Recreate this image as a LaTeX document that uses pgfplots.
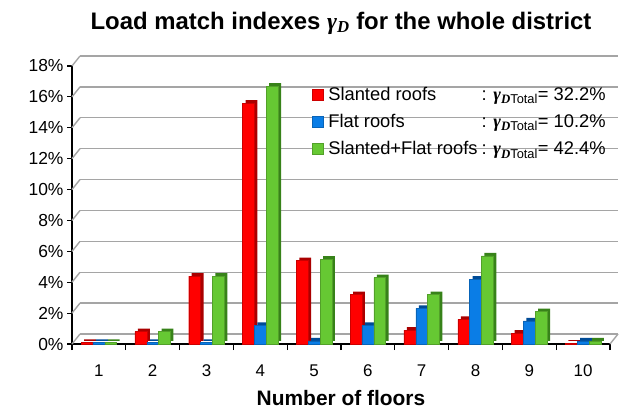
\documentclass[border=0pt]{standalone}
\usepackage{pgfplots}
\pgfplotsset{compat=1.18}
\usepackage{fontspec}
\setmainfont{Liberation Sans}
\newfontfamily\gfont{Liberation Serif}
\definecolor{cred}{RGB}{255,0,0}
\definecolor{credd}{RGB}{170,0,0}
\definecolor{cblue}{RGB}{10,125,230}
\definecolor{cblued}{RGB}{0,75,150}
\definecolor{cgreen}{RGB}{102,200,51}
\definecolor{cgreend}{RGB}{55,130,25}
\definecolor{gridc}{RGB}{165,165,165}
\newcommand\gD{{\gfont\bfseries\itshape γ\textsubscript{D}}}
\newcommand\gDT{{\gfont\bfseries\itshape γ}\textsubscript{{\gfont\bfseries\itshape D}Total}}
\begin{document}
\begin{tikzpicture}
\begin{axis}[
  name=ax, at={(0,0)}, anchor=south west,
  scale only axis, width=538bp, height=278bp,
  xmin=0.5, xmax=10.5, ymin=0, ymax=18,
  axis lines*=left,
  axis line style={black, line width=2bp},
  xtick={1,...,10},
  minor xtick={0.5,1.5,...,10.5},
  major x tick style={draw=none},
  minor x tick style={black, line width=1.2bp},
  ytick={0,2,...,18},
  y tick style={black, line width=1.2bp},
  tick align=outside,
  major tick length=5bp, minor tick length=6bp,
  yticklabel={\pgfmathprintnumber{\tick}\%},
  /pgf/number format/assume math mode=true,
  yticklabel style={font=\fontsize{17.5}{20}\selectfont},
  xticklabel style={font=\fontsize{17}{20}\selectfont, anchor=center, yshift=-22bp},
  ymajorgrids,
  major grid style={gridc, line width=1.4bp, xshift=8bp, yshift=10bp},
  xlabel={Number of floors},
  xlabel style={at={(axis description cs:0.5,0)}, anchor=center, yshift=-54bp, font=\fontsize{21}{24}\selectfont\bfseries},
  title={Load match indexes \gD\ for the whole district},
  title style={at={(axis description cs:0.5,1)}, anchor=center, yshift=37bp, font=\fontsize{24}{28}\selectfont\bfseries},
  clip=false,
  ybar=0pt, bar width=0.22,
  legend style={at={(0.44,0.94)}, anchor=north west, draw=none, fill=none,
    font=\fontsize{18.4}{22}\selectfont, row sep=8.5bp,
    /tikz/every odd column/.append style={column sep=3bp},
    /tikz/every even column/.append style={column sep=2bp}},
  legend cell align=left,
  legend image code/.code={\fill[#1] (0bp,-5.5bp) rectangle (11bp,5.5bp);},
]
\pgfplotsinvokeforeach{0,2,...,18}{\draw[gridc, line width=1.4bp] (axis cs:0.5,#1) -- ++(8bp,10bp);}
\draw[gridc, line width=1.4bp] (axis cs:10.5,0) -- ++(8bp,10bp);
% back (side) faces
\addplot[bar shift=-0.22, fill=credd, draw=none, xshift=3bp, yshift=3bp, forget plot] coordinates {(1,0.1) (2,0.8) (3,4.4) (4,15.6) (5,5.4) (6,3.2) (7,0.9) (8,1.6) (9,0.7) (10,0.05)};
\addplot[bar shift=0, fill=cblued, draw=none, xshift=3bp, yshift=3bp, forget plot] coordinates {(1,0.1) (2,0.1) (3,0.1) (4,1.2) (5,0.2) (6,1.2) (7,2.3) (8,4.2) (9,1.5) (10,0.2)};
\addplot[bar shift=0.22, fill=cgreend, draw=none, xshift=3bp, yshift=3bp, forget plot] coordinates {(1,0.1) (2,0.8) (3,4.4) (4,16.7) (5,5.5) (6,4.3) (7,3.2) (8,5.7) (9,2.1) (10,0.2)};
% front faces
\addplot[bar shift=-0.22, fill=cred, draw=cred!80!black, line width=0.4bp] coordinates {(1,0.1) (2,0.8) (3,4.4) (4,15.6) (5,5.4) (6,3.2) (7,0.9) (8,1.6) (9,0.7) (10,0.05)};
\addlegendentry{\rlap{Slanted roofs}\phantom{Slanted+Flat roofs}\hspace{4bp}: \gDT= 32.2\%}
\addplot[bar shift=0, fill=cblue, draw=cblue!80!black, line width=0.4bp] coordinates {(1,0.1) (2,0.1) (3,0.1) (4,1.2) (5,0.2) (6,1.2) (7,2.3) (8,4.2) (9,1.5) (10,0.2)};
\addlegendentry{\rlap{Flat roofs}\phantom{Slanted+Flat roofs}\hspace{4bp}: \gDT= 10.2\%}
\addplot[bar shift=0.22, fill=cgreen, draw=cgreen!80!black, line width=0.4bp] coordinates {(1,0.1) (2,0.8) (3,4.4) (4,16.7) (5,5.5) (6,4.3) (7,3.2) (8,5.7) (9,2.1) (10,0.2)};
\addlegendentry{Slanted+Flat roofs\hspace{4bp}: \gDT= 42.4\%}
\end{axis}
\path (ax.south west) ++(-72bp,-66bp) rectangle ++(628bp,410bp);
\end{tikzpicture}
\end{document}
